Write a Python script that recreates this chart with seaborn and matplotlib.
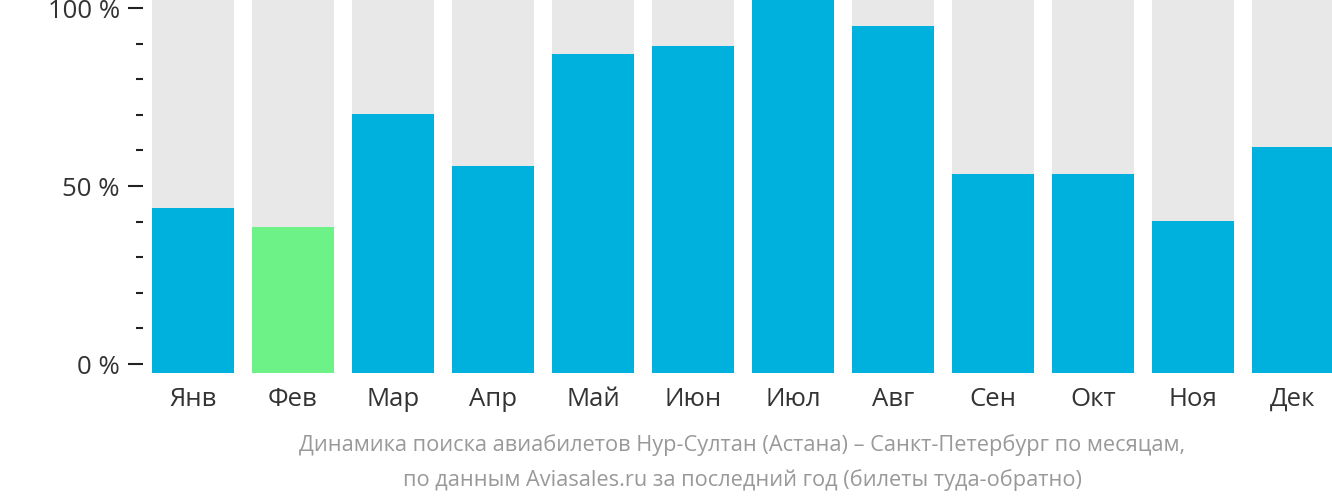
import pandas as pd
import matplotlib.pyplot as plt
import seaborn as sns

# Dados (percentual do máximo mensal)
months = ['Янв', 'Фев', 'Мар', 'Апр', 'Май', 'Июн', 'Июл', 'Авг', 'Сен', 'Окт', 'Ноя', 'Дек']
values = [44.1, 39.0, 69.3, 55.3, 85.3, 87.4, 100.0, 92.8, 53.2, 53.2, 40.6, 60.4]
full = [100] * len(months)

df = pd.DataFrame({'month': months, 'value': values, 'full': full})
min_month = df.loc[df['value'].idxmin(), 'month']
df['kind'] = ['min' if m == min_month else 'normal' for m in df['month']]

sns.set_theme(style='white')
plt.rcParams['font.family'] = ['Open Sans', 'DejaVu Sans']

fig = plt.figure(figsize=(13.32, 5.02), dpi=100)
ax = fig.add_axes([143 / 1332, 128 / 502, 1200 / 1332, 374 / 502])

# Fundo cinza e barras de valores
sns.barplot(data=df, x='month', y='full', color='#e8e8e8', width=0.82,
            saturation=1, linewidth=0, ax=ax)
sns.barplot(data=df, x='month', y='value', hue='kind',
            palette={'normal': '#00b0dd', 'min': '#6cf286'}, width=0.82,
            saturation=1, linewidth=0, dodge=False, legend=False, ax=ax)

ax.set_xlim(-0.5, 11.5)
ax.set_ylim(0, 100)
ax.set_xlabel('')
ax.set_ylabel('')
ax.set_yticks([])
for s in ax.spines.values():
    s.set_visible(False)
ax.tick_params(axis='x', length=0, pad=9.5, labelsize=18.5, labelcolor='#333333')

# Eixo de porcentagem (escala deslocada, como no original)
off = 9 / 3.56
k = (100 + 2 * off) / 100
sec = ax.secondary_yaxis('left', functions=(lambda v: v * k - off, lambda t: (t + off) / k))
sec.set_yticks([0, 50, 100])
sec.set_yticklabels(['0 %', '50 %', '100 %'])
sec.set_yticks([10, 20, 30, 40, 60, 70, 80, 90], minor=True)
sec.tick_params(axis='y', which='major', length=10.8, width=1.5, color='#222222',
                labelsize=18.5, labelcolor='#333333', pad=6)
sec.tick_params(axis='y', which='minor', length=5, width=1.5, color='#222222')
sec.spines['left'].set_visible(False)

fig.text(742 / 1332, 1 - 445 / 502,
         'Динамика поиска авиабилетов Нур-Султан (Астана) – Санкт-Петербург по месяцам,',
         ha='center', va='center', fontsize=15.7, color='#999999')
fig.text(742 / 1332, 1 - 480 / 502,
         'по данным Aviasales.ru за последний год (билеты туда-обратно)',
         ha='center', va='center', fontsize=15.7, color='#999999')

fig.savefig('out.png', dpi=100)
